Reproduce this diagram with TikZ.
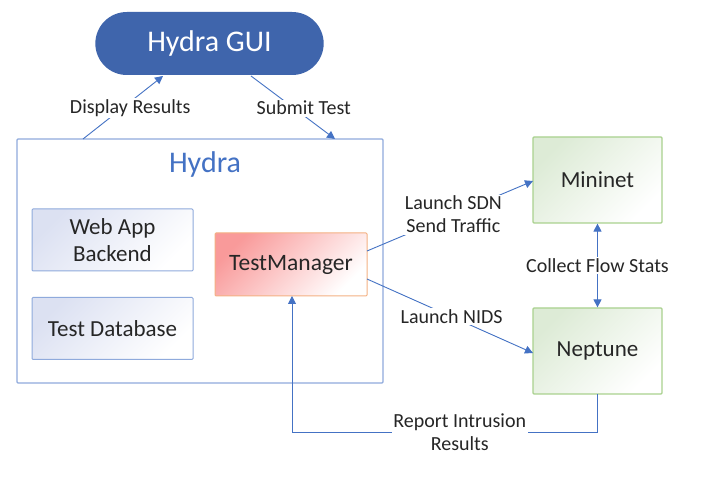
\documentclass[tikz,border=0pt]{standalone}
\usepackage{fontspec}
\setmainfont{Carlito}
\usetikzlibrary{arrows.meta,shapes.misc}
\definecolor{lineblue}{HTML}{4472C4}
\definecolor{boxblue}{HTML}{8FAADC}
\definecolor{guiblue}{HTML}{3F65AC}
\definecolor{lav}{HTML}{DCE1F2}
\definecolor{pinkred}{HTML}{F99A9A}
\definecolor{orangeb}{HTML}{F4B183}
\definecolor{greenb}{HTML}{A9D18E}
\definecolor{greenf}{HTML}{DDEBD6}
\definecolor{txt}{HTML}{262626}
\tikzset{
  tip/.style={-{Triangle[width=8pt,length=8pt]}},
  conn/.style={draw=lineblue, line width=0.9pt, tip},
  lbl/.style={fill=white, font=\fontsize{20}{23}\selectfont, text=txt, inner sep=1.5pt, align=center},
  innerbox/.style={draw=boxblue, line width=1pt, minimum width=161pt, minimum height=62pt, rounded corners=1pt,
     top color=lav, bottom color=white, shading angle=45, font=\fontsize{23}{27}\selectfont, text=txt, align=center},
  tmbox/.style={draw=orangeb, line width=1pt, minimum width=152pt, minimum height=63pt, rounded corners=1pt,
     top color=pinkred, bottom color=white, shading angle=45, font=\fontsize{23.5}{27}\selectfont, text=txt},
  greenbox/.style={draw=greenb, line width=1.2pt, minimum width=129pt, minimum height=86pt, rounded corners=1pt,
     top color=greenf, bottom color=white, shading angle=45, font=\fontsize{23}{27}\selectfont, text=txt},
}
\begin{document}
\begin{tikzpicture}[x=1pt,y=-1pt]
\useasboundingbox[fill=white] (0,0) rectangle (702,486);
% GUI
\node[rounded rectangle, fill=guiblue, minimum width=235pt, minimum height=63pt, text=white,
  font=\fontsize{30}{34}\selectfont] (gui) at (209.5,43.5) {Hydra GUI};
% container
\node[draw=boxblue, line width=1.2pt, minimum width=366pt, minimum height=244pt, rounded corners=1pt] (hydra) at (200,261) {};
\node[text=lineblue, font=\fontsize{30}{34}\selectfont] (hydralbl) at (205,165) {Hydra};
% inner boxes
\node[innerbox] (web) at (112.5,240) {Web App\\Backend};
\node[innerbox] (db) at (112.5,328.5) {Test Database};
\node[tmbox] (tm) at (291,264.5) {TestManager};
\node[greenbox] (mini) at (597.5,180) {Mininet};
\node[greenbox] (nep) at (597.5,351) {Neptune};
% coordinates
\coordinate (dA) at (83,139);
\coordinate (dB) at (163,76);
\coordinate (sA) at (251,76);
\coordinate (sB) at (335,139);
\coordinate (lA) at (367,251);
\coordinate (lB) at (533,181);
\coordinate (nA) at (367,279);
\coordinate (nB) at (533,353);
\coordinate (rA) at (597,394);
\coordinate (rC) at (597,432);
\coordinate (rD) at (292,432);
\coordinate (rB) at (292,296);
% connectors
\draw[conn] (dA) -- node[lbl, pos=0.49, xshift=8pt] (dlbl) {Display Results} (dB);
\draw[conn] (sA) -- node[lbl, pos=0.51, xshift=10pt] (slbl) {Submit Test} (sB);
\draw[conn] (lA) -- node[lbl, pos=0.52] (llbl) {Launch SDN\\Send Traffic} (lB);
\draw[conn] (nA) -- node[lbl, pos=0.51] (nlbl) {Launch NIDS} (nB);
\draw[conn, {Triangle[width=8pt,length=8pt]}-{Triangle[width=8pt,length=8pt]}] (mini.south) -- node[lbl] (clbl) {Collect Flow Stats} (nep.north);
\draw[conn] (rA) -- (rC) -- node[lbl, pos=0.45] (rlbl) {Report Intrusion\\Results} (rD) -- (rB);
\end{tikzpicture}
\end{document}
